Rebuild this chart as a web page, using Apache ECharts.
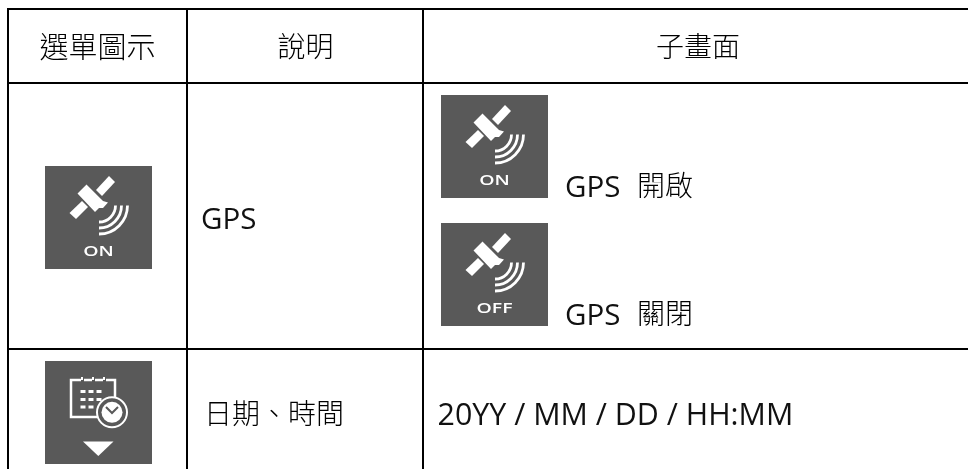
<!DOCTYPE html>
<html>
<head>
<meta charset="utf-8">
<title>GPS menu table</title>
<style>
  html, body { margin: 0; padding: 0; background: #fff; }
  #chart { width: 968px; height: 469px; }
</style>
<script src="https://cdn.jsdelivr.net/npm/echarts@6/dist/echarts.min.js"></script>
</head>
<body>
<div id="chart"></div>
<script>
// table text
const headers = ['選單圖示', '說明', '子畫面'];
const gpsLabel = 'GPS';
const dateLabel = '日期、時間';
const gpsStates = ['開啟', '關閉'];
const dateFormat = '20YY / MM / DD / HH:MM';
const iconLabels = ['ON', 'ON', 'OFF'];

const GREY = '#595959';

const chart = echarts.init(document.getElementById('chart'), null, { renderer: 'canvas' });

const rect = (x, y, width, height, fill) => ({
  type: 'rect',
  shape: { x, y, width, height },
  style: { fill }
});

// latin and CJK runs use different faces, the reference mixes a humanist sans with a light CJK one
const latin = (str, x, y, size) => ({
  type: 'text',
  x,
  y,
  style: {
    text: str,
    font: `400 ${size}px "Open Sans", sans-serif`,
    fill: '#111',
    textAlign: 'left',
    textVerticalAlign: 'middle'
  }
});

const cjk = (str, x, y, size, align) => ({
  type: 'text',
  x,
  y,
  style: {
    text: str,
    font: `300 ${size}px "Noto Sans CJK TC", sans-serif`,
    fill: '#000',
    textAlign: align || 'left',
    textVerticalAlign: 'middle'
  }
});

const arc = (cx, cy, r) => ({
  type: 'arc',
  shape: { cx, cy, r, startAngle: 0, endAngle: Math.PI / 2, clockwise: true },
  style: { stroke: '#fff', fill: 'none', lineWidth: 2.8 }
});

const poly = (points) => ({
  type: 'polygon',
  shape: { points },
  style: { fill: '#fff' }
});

// satellite icon, drawn relative to the top left of its 107x103 tile
const satelliteIcon = (x, y, label) => ({
  type: 'group',
  x,
  y,
  children: [
    rect(0, 0, 107, 103, GREY),
    poly([[64, 10], [70, 16], [57, 30], [51, 24]]),
    poly([[37, 35], [43, 41], [31, 53], [24.5, 47]]),
    poly([[41.5, 18.5], [32.5, 27.5], [50, 46], [54, 42], [58, 42], [63, 36.5], [58, 35], [56, 33]]),
    arc(54, 39.5, 16.5),
    arc(54, 39.5, 22.5),
    arc(54, 39.5, 28.5),
    {
      type: 'text',
      x: 53.5,
      y: 85.5,
      scaleX: 1.3,
      style: {
        text: label,
        font: '600 15px "Open Sans", sans-serif',
        fill: '#fff',
        textAlign: 'center',
        textVerticalAlign: 'middle'
      }
    }
  ]
});

const calendarDots = [];
[[38, 30.5], [46, 30.5], [54, 30.5], [38, 38.5], [46, 38.5], [54, 38.5], [38, 46], [46, 46]].forEach(([dx, dy]) => {
  calendarDots.push(rect(dx - 2.5, dy - 1.5, 5, 3, '#fff'));
});

// calendar + clock icon with the drop arrow under it
const calendarIcon = (x, y) => ({
  type: 'group',
  x,
  y,
  children: [
    rect(0, 0, 107, 103, GREY),
    {
      type: 'polyline',
      shape: { points: [[70, 42], [70, 19], [26, 19], [26, 56], [52, 56]] },
      style: { stroke: '#fff', fill: 'none', lineWidth: 2.5 }
    },
    rect(36, 16, 3, 6, GREY),
    rect(47, 16, 3, 6, GREY),
    rect(58, 16, 3, 6, GREY),
    rect(36, 16, 2, 3, '#fff'),
    rect(47, 16, 2, 3, '#fff'),
    rect(58, 16, 2, 3, '#fff'),
    ...calendarDots,
    { type: 'circle', shape: { cx: 67, cy: 51.3, r: 15 }, style: { fill: GREY, stroke: '#fff', lineWidth: 2 } },
    { type: 'circle', shape: { cx: 67, cy: 51.3, r: 10.5 }, style: { fill: '#fff' } },
    {
      type: 'polyline',
      shape: { points: [[61, 46], [67, 52], [73, 46]] },
      style: { stroke: GREY, fill: 'none', lineWidth: 2 }
    },
    poly([[38, 80.5], [68.5, 80.5], [53.3, 95]])
  ]
});

const graphics = [
  // table rules
  rect(8, 8, 960, 2, '#000'),
  rect(8, 82, 960, 2, '#000'),
  rect(8, 348, 960, 2, '#000'),
  rect(7, 8, 2, 461, '#000'),
  rect(186, 8, 2, 461, '#000'),
  rect(422, 8, 2, 461, '#000'),

  cjk(headers[0], 97.5, 46.5, 29, 'center'),
  cjk(headers[1], 305.5, 46.5, 28, 'center'),
  cjk(headers[2], 698, 46.5, 28, 'center'),

  satelliteIcon(45, 166, iconLabels[0]),
  satelliteIcon(441, 95, iconLabels[1]),
  satelliteIcon(441, 223, iconLabels[2]),
  calendarIcon(45, 361),

  latin(gpsLabel, 201, 220.5, 29.5),
  cjk(dateLabel, 204, 413, 28),
  latin(gpsLabel, 565, 188.5, 29.5),
  cjk(gpsStates[0], 637, 185, 28),
  latin(gpsLabel, 565, 316.5, 29.5),
  cjk(gpsStates[1], 637, 313, 28),
  latin(dateFormat, 437.5, 416, 30.4)
];

chart.setOption({
  animation: false,
  backgroundColor: '#fff',
  graphic: { elements: graphics }
});

window.addEventListener('resize', () => chart.resize());
</script>
</body>
</html>
